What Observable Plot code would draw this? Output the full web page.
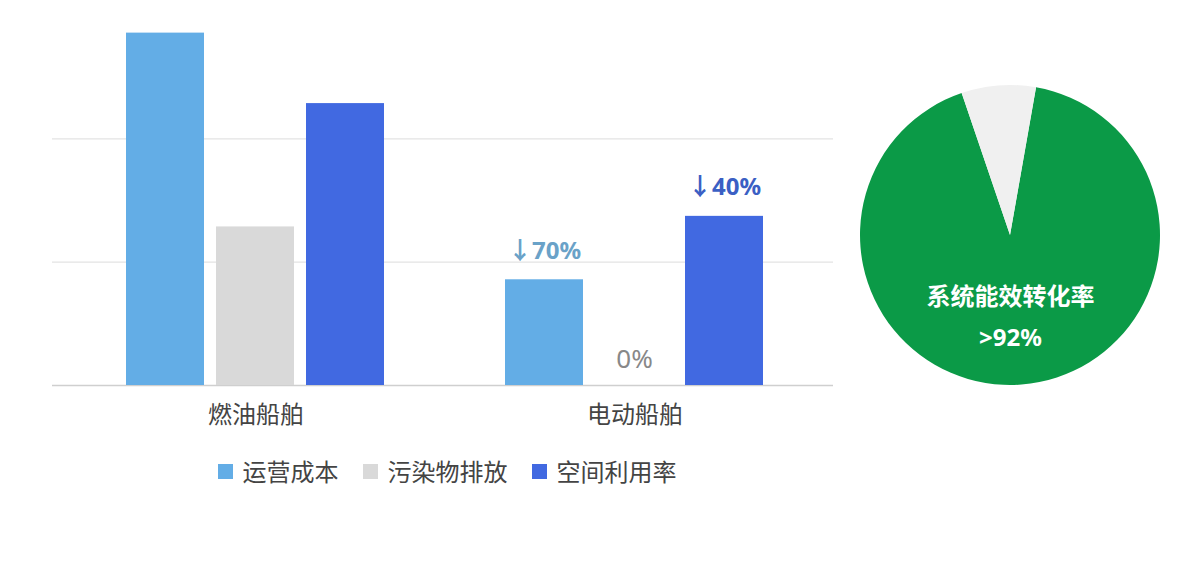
<!DOCTYPE html>
<html><head><meta charset="utf-8">
<script src="https://cdn.jsdelivr.net/npm/d3@7"></script>
<script src="https://cdn.jsdelivr.net/npm/@observablehq/plot@0.6"></script>
<style>
body{margin:0;background:#fff;font-family:"Noto Sans","Noto Sans CJK SC",sans-serif;}
#root{position:relative;width:1200px;height:565px;overflow:hidden;background:#fff}
#grid,#bars{position:absolute;left:0;top:0}
#pie{position:absolute;left:845px;top:70px}
#legend{position:absolute;left:0;top:456px;width:894px;display:flex;justify-content:center;gap:24px;font-size:24px;color:#444;font-family:"Noto Sans CJK SC",sans-serif;line-height:30px}
#legend .it{display:flex;align-items:center}
#legend .sw{width:15px;height:15px;margin-right:10px}
</style></head><body><div id="root"><div id="grid"></div><div id="bars"></div><div id="pie"></div><div id="legend"></div></div>
<script>
const groups = ["燃油船舶", "电动船舶"];
const series = ["运营成本", "污染物排放", "空间利用率"];
const seriesColors = ["#63ade6", "#d9d9d9", "#4169e1"];
const fuelValues = [100, 45, 80];
const electricValues = [30, 0, 48];
const electricLabels = ["↓70%", "0%", "↓40%"];
const electricLabelColors = ["#6aa2c8", "#888888", "#3b5fc4"];
const electricLabelWeights = ["bold", "normal", "bold"];
const electricLabelSizes = [24, 26, 24];
const gridTicks = [35, 70];
const pieNames = ["系统能效转化率", "其他"];
const pieValues = [92, 8];
const pieColors = ["#0b9a47", "#f0f0f0"];
const pieTitle = "系统能效转化率";
const pieValueText = ">92%";

const rows = [];
series.forEach((s, i) => {
  rows.push({group: groups[0], series: s, value: fuelValues[i]});
  rows.push({group: groups[1], series: s, value: electricValues[i]});
});

const fontFam = '"Noto Sans","Noto Sans CJK SC",sans-serif';
const yScale = {domain: [0, 105], axis: null};

// gridlines layer (spans the whole frame)
const grid = Plot.plot({
  width: 850, height: 440, marginLeft: 52, marginRight: 17, marginTop: 15, marginBottom: 55,
  style: {background: "transparent"},
  x: {axis: null},
  y: yScale,
  marks: [
    Plot.ruleY(gridTicks, {stroke: "#e3e3e3", strokeWidth: 1.2}),
    Plot.ruleY([0], {stroke: "#cfcfcf", strokeWidth: 1.5})
  ]
});
document.getElementById("grid").appendChild(grid);

const labelMarks = electricLabels.map((t, i) =>
  Plot.text([{group: groups[1], series: series[i], value: electricValues[i], label: t}], {
    fx: "group", x: "series", y: "value", text: "label",
    lineAnchor: "bottom", dy: i === 1 ? -18 : -21,
    fill: electricLabelColors[i], fontWeight: electricLabelWeights[i], fontSize: electricLabelSizes[i]
  })
);

const bars = Plot.plot({
  width: 850, height: 440, marginLeft: 55, marginRight: 14, marginTop: 15, marginBottom: 55,
  style: {fontFamily: fontFam, background: "transparent"},
  fx: {domain: groups, paddingInner: 0.3, paddingOuter: 0.18, label: null},
  x: {domain: series, paddingInner: 0.13, paddingOuter: 0.03, axis: null},
  y: yScale,
  color: {domain: series, range: seriesColors},
  marks: [
    Plot.barY(rows, {fx: "group", x: "series", y: "value", fill: "series"}),
    ...labelMarks,
    Plot.axisFx({anchor: "bottom", tickSize: 0, tickPadding: 20, fontSize: 24, fill: "#444", label: null, fontFamily: '"Noto Sans CJK SC",sans-serif'})
  ]
});
document.getElementById("bars").appendChild(bars);

// legend
const lg = document.getElementById("legend");
series.forEach((s, i) => {
  const it = document.createElement("div");
  it.className = "it";
  const sw = document.createElement("span");
  sw.className = "sw";
  sw.style.background = seriesColors[i];
  const tx = document.createElement("span");
  tx.textContent = s;
  it.appendChild(sw); it.appendChild(tx);
  lg.appendChild(it);
});

// pie
const pieData = pieNames.map((n, i) => ({name: n, value: pieValues[i], color: pieColors[i]}));
const pieMark = (index, scales, values, dimensions) => {
  const cx = dimensions.width / 2, cy = dimensions.height / 2;
  const r = 150;
  const arcs = d3.pie().sort(null).value(d => d.value)
    .startAngle(10 * Math.PI / 180).endAngle(370 * Math.PI / 180)(pieData);
  const arc = d3.arc().innerRadius(0).outerRadius(r);
  const g = d3.create("svg:g").attr("transform", `translate(${cx},${cy})`);
  g.selectAll("path").data(arcs).join("path").attr("d", arc).attr("fill", d => d.data.color);
  return g.node();
};
const pie = Plot.plot({
  width: 330, height: 330, margin: 0,
  style: {fontFamily: fontFam, background: "transparent"},
  x: {axis: null}, y: {axis: null},
  marks: [
    pieMark,
    Plot.text([pieTitle], {text: d => d, frameAnchor: "middle", dy: 62, fill: "white", fontSize: 24, fontWeight: "bold", fontFamily: '"Noto Sans CJK SC",sans-serif'}),
    Plot.text([pieValueText], {text: d => d, frameAnchor: "middle", dy: 103, fill: "white", fontSize: 24, fontWeight: "bold"})
  ]
});
document.getElementById("pie").appendChild(pie);
</script>
</body></html>
